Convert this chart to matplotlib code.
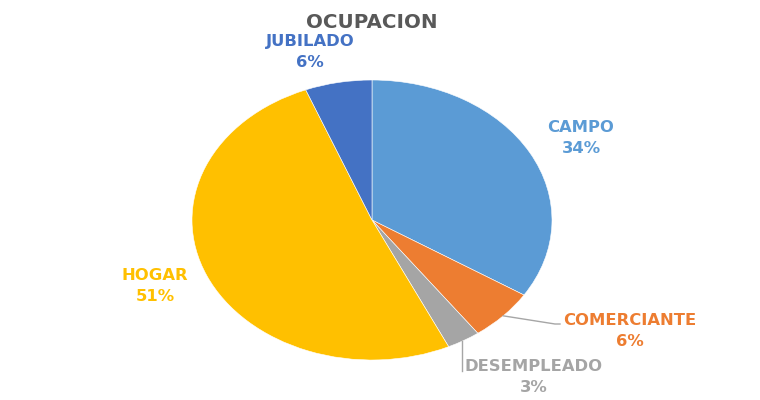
import numpy as np
import matplotlib.pyplot as plt
from matplotlib.lines import Line2D

plt.rcParams['font.family'] = ['DejaVu Sans']

categorias = ['CAMPO', 'COMERCIANTE', 'DESEMPLEADO', 'HOGAR', 'JUBILADO']
porcentajes = [34, 6, 3, 51, 6]
colores = ['#5B9BD5', '#ED7D31', '#A5A5A5', '#FFC000', '#4472C4']

W, H = 760, 400
fig = plt.figure(figsize=(W / 100, H / 100), dpi=100)
# pie is drawn as an ellipse (wider than tall) like the excel chart
ax = fig.add_axes([192 / W, (H - 360) / H, 360 / W, 280 / H])
wedges, _ = ax.pie(porcentajes, colors=colores, startangle=90, counterclock=False,
                   radius=1, wedgeprops=dict(edgecolor='white', linewidth=0.4))
ax.set_xlim(-1, 1)
ax.set_ylim(-1, 1)
ax.set_aspect('auto')
ax.axis('off')

fig.text(372 / W, 1 - 22 / H, 'OCUPACION', ha='center', va='center',
         fontsize=14.3, fontweight='bold', color='#595959')

# label centres in pixels (top-left origin)
pos_etiquetas = [(581, 138), (630, 331), (534, 377), (155, 286), (310, 52)]


def px(x, y):
    return x / W, 1 - y / H


for nombre, pct, col, (lx, ly) in zip(categorias, porcentajes, colores, pos_etiquetas):
    fig.text(*px(lx, ly), f'{nombre}\n{pct}%', ha='center', va='center',
             fontsize=11.8, fontweight='bold', color=col, linespacing=1.45)

fig.canvas.draw()
gris = '#A6A6A6'

# COMERCIANTE: from the middle of the slice out to the label
w = wedges[1]
ang = np.deg2rad((w.theta1 + w.theta2) / 2)
x0, y0 = ax.transData.transform((np.cos(ang), np.sin(ang)))
fig.add_artist(Line2D([x0 / W, 555 / W, 560 / W], [y0 / H, 1 - 324 / H, 1 - 324 / H],
                      transform=fig.transFigure, color=gris, lw=1))

# DESEMPLEADO: straight down from the pie edge
xd = 462
xdat = ax.transData.inverted().transform((xd, 0))[0]
_, yedge = ax.transData.transform((xdat, -np.sqrt(1 - xdat ** 2)))
fig.add_artist(Line2D([xd / W, xd / W], [yedge / H, 1 - 371 / H],
                      transform=fig.transFigure, color=gris, lw=1))

fig.savefig('out.png', dpi=100)
